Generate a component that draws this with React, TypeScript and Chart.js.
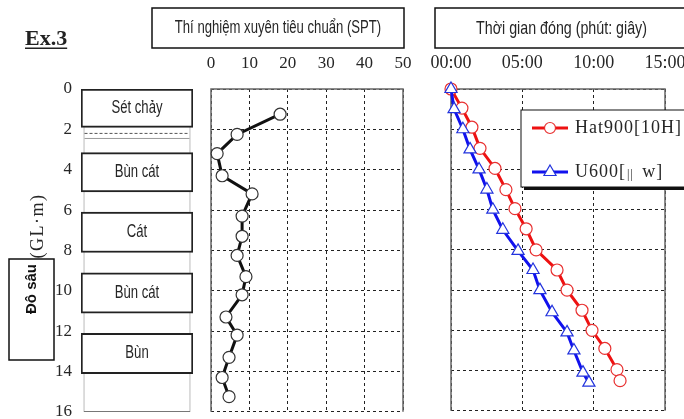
import React, { useEffect, useRef } from "react";
import { Chart, registerables } from "chart.js";

Chart.register(...registerables);

// ---------------- data ----------------
const depthMin = 0;
const depthMax = 16;
const depthStep = 2;

const layerNames = ["Sét chảy", "Bùn cát", "Cát", "Bùn cát", "Bùn"];
const layerTop = [0, 3.15, 6.1, 9.1, 12.1];
const layerBottom = [1.9, 5.1, 8.1, 11.1, 14.1];
const columnRange: [number, number] = [0, 16];
const columnSeamDashed = [2.2];
const columnSeamSolid = [2.45];

const sptMin = 0;
const sptMax = 50;
const sptStep = 10;
const sptDepth = [1.25, 2.25, 3.2, 4.3, 5.2, 6.3, 7.3, 8.25, 9.3, 10.2, 11.3, 12.2, 13.3, 14.3, 15.25];
const sptN = [18, 6.8, 1.6, 2.9, 10.7, 8.1, 8.1, 6.8, 9.1, 8.1, 3.9, 6.8, 4.7, 2.9, 4.7];

const timeMaxSec = 900;
const timeStepSec = 300;
const seriesNames = ["Hat900[10H]", "U600[|| w]"];
const hatDepth = [0, 0.95, 1.9, 2.95, 3.95, 5, 5.95, 6.95, 8, 9, 10, 11, 12, 12.9, 13.95, 14.5];
const hatTime = [0, 46, 88, 122, 185, 231, 269, 316, 358, 446, 488, 551, 593, 647, 698, 711];
const uDepth = [0, 1, 2, 3, 4, 5, 6, 7, 8.05, 9, 10, 11.1, 12.1, 13, 14.1, 14.6];
const uTime = [0, 13, 50, 80, 118, 151, 176, 218, 282, 345, 374, 425, 488, 517, 555, 580];

const titleSpt = "Thí nghiệm xuyên tiêu chuẩn (SPT)";
const titleTime = "Thời gian đóng (phút: giây)";
const exLabel = "Ex.3";
const depthTitle = "Đô sâu";
const depthUnit = "(GL·m)";

// ---------------- style ----------------
const W = 684;
const H = 419;
const SERIF = "'Liberation Serif', 'Times New Roman', serif";
const SANS = "'Liberation Sans', Arial, sans-serif";
const INK = "#262626";
const TICK_FONT = { family: SERIF, size: 17 };
const TIME_TICK_FONT = { family: SERIF, size: 18 };
const PLOT_TOP = 89;
const PLOT_BOTTOM_PAD = 7;

function narrowText(
  ctx: CanvasRenderingContext2D,
  text: string,
  cx: number,
  cy: number,
  size: number,
  scaleX = 0.75,
  weight = "normal"
) {
  ctx.save();
  ctx.translate(cx, cy);
  ctx.scale(scaleX, 1);
  ctx.font = `${weight} ${size}px ${SANS}`;
  ctx.textAlign = "center";
  ctx.textBaseline = "middle";
  ctx.fillStyle = INK;
  ctx.fillText(text, 0, 0);
  ctx.restore();
}

function drawBox(ctx: CanvasRenderingContext2D, x: number, y: number, w: number, h: number, lw = 1.5) {
  ctx.save();
  ctx.fillStyle = "#fff";
  ctx.fillRect(x, y, w, h);
  ctx.strokeStyle = "#111";
  ctx.lineWidth = lw;
  ctx.strokeRect(x, y, w, h);
  ctx.restore();
}

const framePlugin = {
  id: "frame",
  beforeDatasetsDraw(chart: any) {
    const { ctx, chartArea: a } = chart;
    ctx.save();
    ctx.strokeStyle = "#666";
    ctx.lineWidth = 1.5;
    ctx.beginPath();
    ctx.moveTo(a.left, a.bottom);
    ctx.lineTo(a.left, a.top);
    ctx.lineTo(a.right, a.top);
    ctx.lineTo(a.right, a.bottom);
    ctx.stroke();
    ctx.restore();
  },
};

function depthScale(showTicks: boolean) {
  return {
    type: "linear",
    position: "left",
    reverse: true,
    min: depthMin,
    max: depthMax,
    ticks: { display: showTicks, stepSize: depthStep, font: TICK_FONT, color: INK, padding: 9 },
    grid: { display: !showTicks, color: "#222", lineWidth: 1, drawTicks: false },
    border: { display: false, dash: [3, 3] },
    afterFit: (s: any) => {
      s.width = showTicks ? 81 : 0;
      s.paddingTop = 0;
      s.paddingBottom = 0;
    },
  };
}

function topScale(min: number, max: number, step: number, font: any, cb?: (v: number) => string) {
  return {
    type: "linear",
    position: "top",
    min,
    max,
    ticks: {
      stepSize: step,
      font,
      color: INK,
      padding: 15,
      maxRotation: 0,
      autoSkip: false,
      ...(cb ? { callback: (v: any) => cb(Number(v)) } : {}),
    },
    grid: { color: "#222", lineWidth: 1, drawTicks: false },
    border: { display: false, dash: [3, 3] },
    afterFit: (s: any) => {
      s.height = PLOT_TOP;
      s.paddingLeft = 0;
      s.paddingRight = 0;
    },
  };
}

const mmss = (v: number) =>
  `${String(Math.floor(v / 60)).padStart(2, "0")}:${String(Math.round(v % 60)).padStart(2, "0")}`;

// ---------------- chart configs ----------------
function soilConfig(): any {
  const soilPlugin = {
    id: "soil",
    afterDatasetsDraw(chart: any) {
      const { ctx } = chart;
      const yS = chart.scales.y;
      const col = chart.getDatasetMeta(0).data[0] as any;
      const cp = col.getProps(["x", "width"], true);
      const x1 = cp.x - cp.width / 2 + 1;
      const x2 = cp.x + cp.width / 2 - 1;
      ctx.save();
      ctx.strokeStyle = "#555";
      ctx.lineWidth = 1;
      columnSeamDashed.forEach((d) => {
        const y = yS.getPixelForValue(d);
        ctx.setLineDash([3, 2]);
        ctx.beginPath();
        ctx.moveTo(x1, y);
        ctx.lineTo(x2, y);
        ctx.stroke();
      });
      ctx.setLineDash([]);
      columnSeamSolid.forEach((d) => {
        const y = yS.getPixelForValue(d);
        ctx.strokeStyle = "#999";
        ctx.beginPath();
        ctx.moveTo(x1, y);
        ctx.lineTo(x2, y);
        ctx.stroke();
      });
      ctx.restore();
      layerNames.forEach((name, i) => {
        const bar = chart.getDatasetMeta(i + 1).data[0] as any;
        const p = bar.getProps(["x", "y", "base"], true);
        narrowText(ctx, name, p.x, (p.y + p.base) / 2, 17.5);
      });
    },
    afterDraw(chart: any) {
      const { ctx } = chart;
      // Ex.3
      ctx.save();
      ctx.font = `bold 22px ${SERIF}`;
      ctx.fillStyle = "#222";
      ctx.textBaseline = "alphabetic";
      ctx.textAlign = "left";
      ctx.fillText(exLabel, 25, 45);
      const w = ctx.measureText(exLabel).width;
      ctx.fillRect(25, 47.5, w, 1.5);
      ctx.restore();
      // depth title box
      drawBox(ctx, 9, 259, 45, 101);
      ctx.save();
      ctx.translate(32, 289);
      ctx.rotate(-Math.PI / 2);
      ctx.font = `bold 15px ${SANS}`;
      ctx.fillStyle = "#111";
      ctx.textAlign = "center";
      ctx.textBaseline = "middle";
      ctx.fillText(depthTitle, 0, 0);
      ctx.restore();
      ctx.save();
      ctx.translate(38, 226);
      ctx.rotate(-Math.PI / 2);
      ctx.font = `18px ${SERIF}`;
      (ctx as any).letterSpacing = "1.5px";
      ctx.fillStyle = INK;
      ctx.textAlign = "center";
      ctx.textBaseline = "middle";
      ctx.fillText(depthUnit, 0, 0);
      ctx.restore();
    },
  };

  return {
    type: "bar",
    data: {
      labels: [""],
      datasets: [
        {
          label: "column",
          data: [columnRange],
          backgroundColor: "#fff",
          borderColor: "#777",
          borderWidth: 1,
          borderSkipped: false,
          barPercentage: 0.955,
          categoryPercentage: 1,
          grouped: false,
          order: 1,
        },
        ...layerNames.map((name, i) => ({
          label: name,
          data: [[layerTop[i], layerBottom[i]]],
          backgroundColor: "#fff",
          borderColor: "#222",
          borderWidth: 2,
          borderSkipped: false,
          barPercentage: 1,
          categoryPercentage: 1,
          grouped: false,
          order: 0,
        })),
      ],
    },
    options: {
      responsive: false,
      animation: false,
      devicePixelRatio: 1,
      layout: { padding: { left: 0, right: W - 193, top: PLOT_TOP, bottom: PLOT_BOTTOM_PAD } },
      plugins: { legend: { display: false }, tooltip: { enabled: false } },
      scales: { x: { display: false }, y: depthScale(true) },
    },
    plugins: [soilPlugin],
  };
}

function sptConfig(): any {
  const titlePlugin = {
    id: "sptTitle",
    afterDraw(chart: any) {
      const { ctx } = chart;
      drawBox(ctx, 152, 8, 252, 40);
      narrowText(ctx, titleSpt, 278, 28.5, 17.5);
    },
  };
  return {
    type: "line",
    data: {
      datasets: [
        {
          label: "SPT",
          data: sptN.map((n, i) => ({ x: n, y: sptDepth[i] })),
          borderColor: "#111",
          borderWidth: 3,
          pointStyle: "circle",
          pointRadius: 6,
          pointBackgroundColor: "#fff",
          pointBorderColor: "#333",
          pointBorderWidth: 1.2,
          tension: 0,
          clip: false,
        },
      ],
    },
    options: {
      responsive: false,
      animation: false,
      devicePixelRatio: 1,
      layout: { padding: { left: 211, right: W - 403, top: 0, bottom: PLOT_BOTTOM_PAD } },
      plugins: { legend: { display: false }, tooltip: { enabled: false } },
      scales: { x: topScale(sptMin, sptMax, sptStep, TICK_FONT), y: depthScale(false) },
    },
    plugins: [framePlugin, titlePlugin],
  };
}

function timeConfig(): any {
  const legendPlugin = {
    id: "timeLegend",
    afterDraw(chart: any) {
      const { ctx } = chart;
      drawBox(ctx, 435, 8, 260, 40);
      narrowText(ctx, titleTime, 561.5, 28.5, 19);

      const x0 = 521, y0 = 110, w = 175, h = 77;
      ctx.save();
      ctx.fillStyle = "#111";
      ctx.fillRect(x0 + 3, y0 + 3, w, h);
      ctx.restore();
      drawBox(ctx, x0, y0, w, h, 1);
      const rows = [128, 172];
      const order = [0, 1];
      order.forEach((di, r) => {
        const ds = chart.data.datasets[di];
        const y = rows[r];
        ctx.save();
        ctx.strokeStyle = ds.borderColor;
        ctx.lineWidth = 3;
        ctx.beginPath();
        ctx.moveTo(532, y);
        ctx.lineTo(568, y);
        ctx.stroke();
        ctx.fillStyle = "#fff";
        ctx.strokeStyle = ds.pointBorderColor;
        ctx.lineWidth = 1.2;
        ctx.beginPath();
        if (ds.pointStyle === "triangle") {
          const rr = ds.pointRadius;
          ctx.moveTo(550, y - rr);
          ctx.lineTo(550 + rr * 0.866, y + rr * 0.5);
          ctx.lineTo(550 - rr * 0.866, y + rr * 0.5);
          ctx.closePath();
        } else {
          ctx.arc(550, y, 5.5, 0, Math.PI * 2);
        }
        ctx.fill();
        ctx.stroke();
        ctx.fillStyle = INK;
        ctx.textBaseline = "middle";
        ctx.textAlign = "left";
        (ctx as any).letterSpacing = "1px";
        const label: string = ds.label;
        const m = label.match(/^(.*\[)(\|\|)(.*)$/);
        if (m) {
          ctx.font = `18px ${SERIF}`;
          ctx.fillText(m[1], 575, y);
          let x = 575 + ctx.measureText(m[1]).width;
          ctx.font = `12px ${SERIF}`;
          ctx.fillText(m[2], x + 1, y + 3);
          x += ctx.measureText(m[2]).width + 1;
          ctx.font = `18px ${SERIF}`;
          ctx.fillText(m[3], x + 3, y);
        } else {
          ctx.font = `18px ${SERIF}`;
          ctx.fillText(label, 575, y);
        }
        ctx.restore();
      });
    },
  };
  return {
    type: "line",
    data: {
      datasets: [
        {
          label: seriesNames[0],
          data: hatTime.map((t, i) => ({ x: t, y: hatDepth[i] })),
          borderColor: "#ee1111",
          borderWidth: 3,
          pointStyle: "circle",
          pointRadius: 6,
          pointBackgroundColor: "#fff",
          pointBorderColor: "#e83030",
          pointBorderWidth: 1.2,
          tension: 0,
          clip: false,
          order: 1,
        },
        {
          label: seriesNames[1],
          data: uTime.map((t, i) => ({ x: t, y: uDepth[i] })),
          borderColor: "#1111ee",
          borderWidth: 3,
          pointStyle: "triangle",
          pointRadius: 7,
          pointBackgroundColor: "#fff",
          pointBorderColor: "#2233dd",
          pointBorderWidth: 1.2,
          tension: 0,
          clip: false,
          order: 0,
        },
      ],
    },
    options: {
      responsive: false,
      animation: false,
      devicePixelRatio: 1,
      layout: { padding: { left: 451, right: W - 665, top: 0, bottom: PLOT_BOTTOM_PAD } },
      plugins: { legend: { display: false }, tooltip: { enabled: false } },
      scales: { x: topScale(0, timeMaxSec, timeStepSec, TIME_TICK_FONT, mmss), y: depthScale(false) },
    },
    plugins: [framePlugin, legendPlugin],
  };
}

export default function App() {
  const aRef = useRef<HTMLCanvasElement>(null);
  const bRef = useRef<HTMLCanvasElement>(null);
  const cRef = useRef<HTMLCanvasElement>(null);

  useEffect(() => {
    const charts = [
      new Chart(aRef.current!, soilConfig()),
      new Chart(bRef.current!, sptConfig()),
      new Chart(cRef.current!, timeConfig()),
    ];
    return () => charts.forEach((c) => c.destroy());
  }, []);

  const cs: React.CSSProperties = { position: "absolute", left: 0, top: 0, width: W, height: H };
  return (
    <div style={{ position: "absolute", left: 0, top: 0, width: W, height: H, background: "#fff", overflow: "hidden" }}>
      <canvas ref={aRef} width={W} height={H} style={cs} />
      <canvas ref={bRef} width={W} height={H} style={cs} />
      <canvas ref={cRef} width={W} height={H} style={cs} />
    </div>
  );
}
